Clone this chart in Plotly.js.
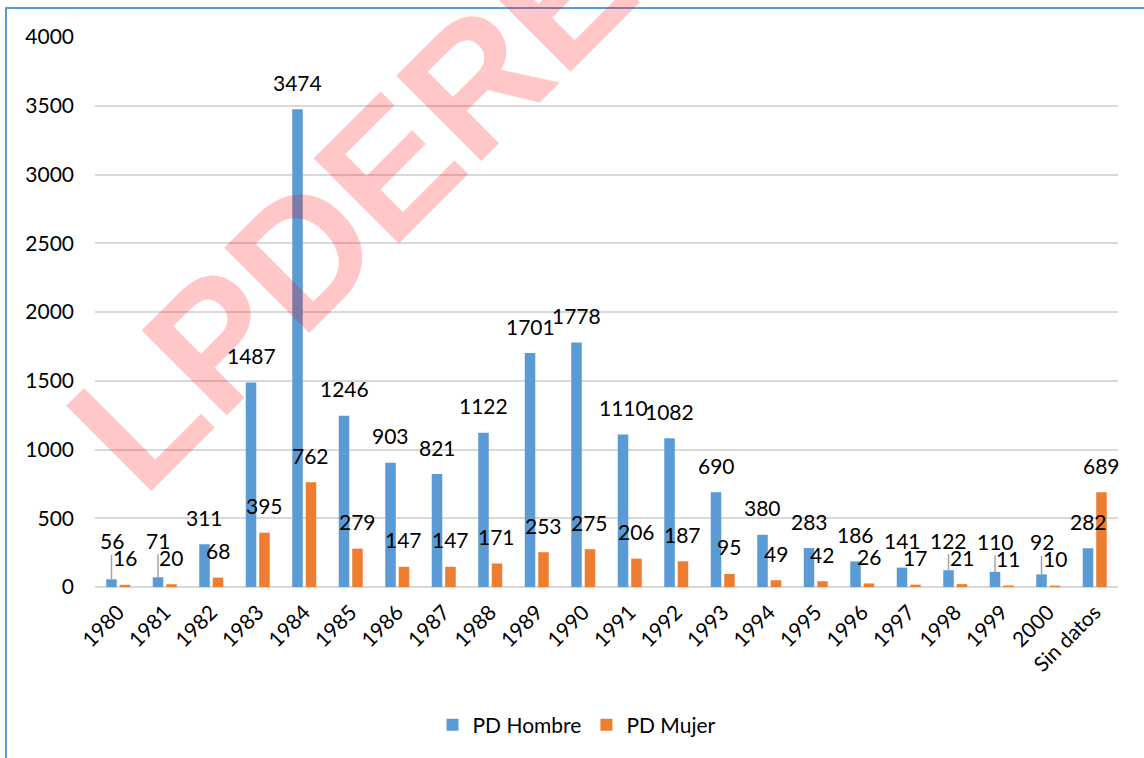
<!DOCTYPE html>
<html>
<head>
<meta charset="utf-8">
<script src="https://cdn.plot.ly/plotly-3.0.1.min.js"></script>
<style>
  html, body { margin: 0; padding: 0; background: #ffffff; }
  #chart { width: 1144px; height: 758px; }
</style>
</head>
<body>
<div id="chart"></div>
<script>
// ---- data ----
const categories = ['1980','1981','1982','1983','1984','1985','1986','1987','1988','1989','1990',
                    '1991','1992','1993','1994','1995','1996','1997','1998','1999','2000','Sin datos'];
const hombre = [56,71,311,1487,3474,1246,903,821,1122,1701,1778,1110,1082,690,380,283,186,141,122,110,92,282];
const mujer  = [16,20,68,395,762,279,147,147,171,253,275,206,187,95,49,42,26,17,21,11,10,689];
const seriesNames = ['PD Hombre', 'PD Mujer'];
const watermarkText = 'LPDERECHO';

// ---- layout constants ----
const W = 1144, H = 758;
const M = {l: 95, r: 26, t: 37, b: 171, pad: 0};
const plotW = W - M.l - M.r, plotH = H - M.t - M.b;
const yMax = 4000;
const bargap = 0.42, bargroupgap = 0.22;
const FONT = 'Lato, "Open Sans", sans-serif';
const blue = '#5B9BD5', orange = '#ED7D31';

const pxPerUnit = plotH / yMax;
const catPx = plotW / categories.length;
const barOffset = catPx * (1 - bargap) / 4;

const traces = [
  {type: 'bar', name: seriesNames[0], x: categories, y: hombre, marker: {color: blue}, hoverinfo: 'x+y'},
  {type: 'bar', name: seriesNames[1], x: categories, y: mujer, marker: {color: orange}, hoverinfo: 'x+y'}
];

// data labels (x given as category index)
const annotations = [];
const baseShift = 27;
categories.forEach((c, i) => {
  const d = (hombre[i] - mujer[i]) * pxPerUnit;
  let shiftH = baseShift;
  let moved = false;
  if (d >= 0 && d < 17) { shiftH = 44 - d; moved = true; }
  annotations.push({
    x: i, y: hombre[i], xref: 'x', yref: 'y', text: String(hombre[i]),
    showarrow: true, ax: 0, ay: -shiftH, axref: 'pixel', ayref: 'pixel',
    arrowhead: 0, arrowwidth: 1.5, standoff: 0,
    arrowcolor: moved ? '#A6A6A6' : 'rgba(0,0,0,0)',
    xshift: -barOffset, xanchor: 'center', yanchor: 'middle',
    font: {family: FONT, size: 21, color: '#000000'}
  });
  annotations.push({
    x: i, y: mujer[i], xref: 'x', yref: 'y', text: String(mujer[i]),
    showarrow: false, xshift: barOffset, yshift: baseShift,
    xanchor: 'center', yanchor: 'middle',
    font: {family: FONT, size: 21, color: '#000000'}
  });
});

// watermark
const toPX = px => (px - M.l) / plotW;
const toPY = py => (M.t + plotH - py) / plotH;
annotations.push({
  xref: 'paper', yref: 'paper', x: toPX(488), y: toPY(68),
  xanchor: 'center', yanchor: 'middle', showarrow: false,
  text: watermarkText, textangle: -45,
  font: {family: '"Liberation Sans", Arial, sans-serif', size: 175, weight: 'bold', color: 'rgba(255,0,0,0.22)'}
});

const layout = {
  width: W, height: H, autosize: false,
  margin: M,
  paper_bgcolor: '#ffffff', plot_bgcolor: '#ffffff',
  barmode: 'group', bargap: bargap, bargroupgap: bargroupgap,
  showlegend: true,
  legend: {
    orientation: 'h', x: toPX(577), xanchor: 'center', y: toPY(725), yanchor: 'middle',
    font: {family: FONT, size: 21, color: '#000000'}, bgcolor: 'rgba(0,0,0,0)'
  },
  xaxis: {
    type: 'category', range: [-0.5, categories.length - 0.5], autorange: false,
    tickangle: -45, showgrid: false, showline: false, zeroline: false,
    ticks: '', ticklabelstandoff: 8,
    tickfont: {family: FONT, size: 21, color: '#000000'}
  },
  yaxis: {
    range: [0, yMax], autorange: false, dtick: 500, tick0: 0, showgrid: true, gridcolor: '#D9D9D9', gridwidth: 2,
    zeroline: true, zerolinecolor: '#D9D9D9', zerolinewidth: 2, showline: false,
    ticks: '', ticklabelstandoff: 20,
    tickfont: {family: FONT, size: 21, color: '#000000'}
  },
  annotations: annotations,
  shapes: [{
    type: 'rect', xref: 'paper', yref: 'paper', layer: 'above',
    x0: toPX(6), y0: toPY(8), x1: toPX(W + 50), y1: toPY(H + 50),
    line: {color: blue, width: 2}, fillcolor: 'rgba(0,0,0,0)'
  }]
};

Plotly.newPlot('chart', traces, layout, {displayModeBar: false, staticPlot: true});
</script>
</body>
</html>
